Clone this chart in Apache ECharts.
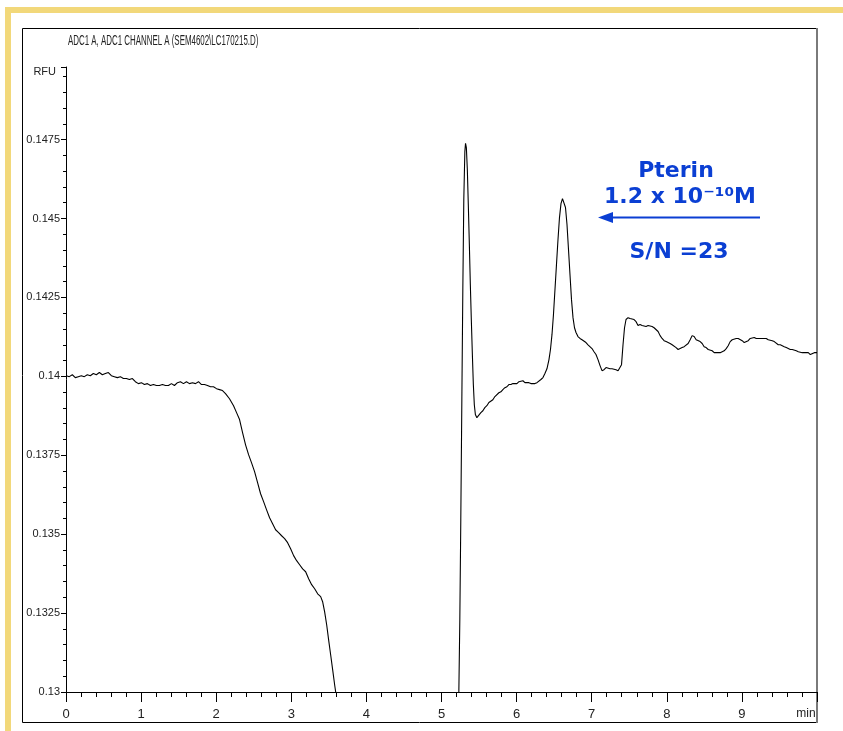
<!DOCTYPE html>
<html>
<head>
<meta charset="utf-8">
<script src="https://cdn.jsdelivr.net/npm/echarts@6/dist/echarts.min.js"></script>
<style>html,body{margin:0;padding:0;background:#fff}#c{width:843px;height:731px}</style>
</head>
<body>
<div id="c"></div>
<script>
// ---- Data (time in min, signal in RFU) ----
const chartTitle = 'ADC1 A, ADC1 CHANNEL A (SEM4602\\LC170215.D)';
const yAxisName = 'RFU';
const xUnitLabel = 'min';
const yTicks = [0.13, 0.1325, 0.135, 0.1375, 0.14, 0.1425, 0.145, 0.1475];
const xTicks = [0, 1, 2, 3, 4, 5, 6, 7, 8, 9, 10];

// segment before the signal leaves the plotted range (drops below 0.13)
const timesA = [0.004,0.044,0.084,0.124,0.164,0.204,0.244,0.284,0.324,0.364,0.404,0.444,0.484,0.524,0.564,0.604,0.644,0.684,0.724,0.764,0.804,0.844,0.884,0.924,0.964,1.004,1.044,1.084,1.124,1.164,1.204,1.244,1.284,1.324,1.364,1.404,1.444,1.484,1.524,1.564,1.604,1.644,1.684,1.724,1.764,1.804,1.844,1.884,1.924,1.964,2.004,2.044,2.084,2.124,2.177,2.231,2.271,2.311,2.351,2.391,2.431,2.471,2.511,2.551,2.591,2.631,2.671,2.711,2.751,2.791,2.831,2.871,2.911,2.951,2.991,3.031,3.071,3.111,3.151,3.191,3.231,3.271,3.311,3.351,3.391,3.417,3.444,3.471,3.497,3.524,3.551,3.577,3.591];
const valuesA = [0.14002,0.13999,0.14005,0.13996,0.13999,0.14002,0.13999,0.14005,0.14002,0.14009,0.14005,0.14012,0.14005,0.14009,0.14012,0.14002,0.13999,0.13996,0.13999,0.13993,0.13993,0.13990,0.13993,0.13983,0.13977,0.13980,0.13974,0.13977,0.13971,0.13974,0.13971,0.13971,0.13974,0.13971,0.13971,0.13977,0.13971,0.13980,0.13983,0.13977,0.13983,0.13977,0.13980,0.13977,0.13983,0.13974,0.13974,0.13971,0.13967,0.13967,0.13961,0.13958,0.13955,0.13945,0.13929,0.13907,0.13885,0.13863,0.13822,0.13783,0.13752,0.13726,0.13698,0.13663,0.13628,0.13603,0.13577,0.13552,0.13533,0.13514,0.13505,0.13495,0.13486,0.13473,0.13454,0.13432,0.13416,0.13403,0.13390,0.13381,0.13359,0.13340,0.13327,0.13311,0.13302,0.13286,0.13254,0.13213,0.13165,0.13118,0.13070,0.13023,0.13000];

// segment after the signal comes back into range
const timesB = [5.231,5.244,5.257,5.271,5.284,5.297,5.311,5.320,5.331,5.344,5.357,5.371,5.384,5.397,5.411,5.424,5.437,5.451,5.471,5.497,5.524,5.551,5.577,5.604,5.631,5.657,5.684,5.711,5.737,5.764,5.791,5.817,5.844,5.871,5.897,5.924,5.951,5.977,6.004,6.031,6.057,6.084,6.111,6.137,6.164,6.191,6.217,6.244,6.271,6.297,6.324,6.351,6.377,6.404,6.431,6.451,6.471,6.491,6.511,6.531,6.551,6.571,6.591,6.611,6.631,6.651,6.671,6.691,6.711,6.731,6.751,6.771,6.791,6.817,6.844,6.871,6.897,6.924,6.951,6.977,7.004,7.031,7.057,7.084,7.111,7.137,7.164,7.191,7.217,7.244,7.271,7.297,7.324,7.351,7.377,7.397,7.417,7.437,7.457,7.484,7.511,7.537,7.564,7.591,7.617,7.644,7.671,7.697,7.724,7.751,7.777,7.804,7.831,7.857,7.884,7.911,7.937,7.964,7.991,8.017,8.044,8.071,8.097,8.124,8.151,8.177,8.204,8.231,8.257,8.284,8.311,8.337,8.364,8.391,8.417,8.444,8.471,8.497,8.524,8.551,8.577,8.604,8.631,8.657,8.684,8.711,8.737,8.764,8.791,8.817,8.844,8.871,8.897,8.924,8.951,8.977,9.004,9.031,9.057,9.084,9.111,9.137,9.164,9.191,9.217,9.244,9.271,9.297,9.324,9.351,9.377,9.404,9.431,9.457,9.484,9.511,9.537,9.564,9.591,9.617,9.644,9.671,9.697,9.724,9.751,9.777,9.804,9.831,9.857,9.884,9.911,9.937,9.964,10.0];
const valuesB = [0.13000,0.13229,0.13546,0.13926,0.14275,0.14560,0.14712,0.14738,0.14725,0.14655,0.14544,0.14417,0.14291,0.14180,0.14069,0.13974,0.13910,0.13879,0.13869,0.13875,0.13885,0.13891,0.13901,0.13907,0.13917,0.13923,0.13926,0.13936,0.13939,0.13948,0.13951,0.13958,0.13964,0.13967,0.13974,0.13974,0.13977,0.13980,0.13977,0.13983,0.13980,0.13986,0.13980,0.13977,0.13980,0.13977,0.13974,0.13977,0.13980,0.13986,0.13990,0.13996,0.14009,0.14024,0.14053,0.14085,0.14132,0.14196,0.14275,0.14354,0.14433,0.14503,0.14547,0.14563,0.14560,0.14535,0.14481,0.14402,0.14322,0.14243,0.14186,0.14154,0.14139,0.14126,0.14120,0.14116,0.14110,0.14107,0.14100,0.14094,0.14088,0.14078,0.14069,0.14053,0.14034,0.14018,0.14021,0.14028,0.14028,0.14024,0.14024,0.14021,0.14021,0.14018,0.14018,0.14037,0.14100,0.14154,0.14180,0.14186,0.14183,0.14189,0.14180,0.14173,0.14161,0.14164,0.14161,0.14161,0.14158,0.14161,0.14161,0.14158,0.14154,0.14151,0.14142,0.14129,0.14120,0.14113,0.14110,0.14107,0.14104,0.14100,0.14094,0.14091,0.14085,0.14091,0.14091,0.14094,0.14094,0.14104,0.14116,0.14129,0.14126,0.14116,0.14116,0.14110,0.14104,0.14094,0.14091,0.14085,0.14081,0.14081,0.14075,0.14078,0.14075,0.14075,0.14075,0.14081,0.14088,0.14097,0.14110,0.14116,0.14120,0.14120,0.14120,0.14116,0.14113,0.14107,0.14110,0.14113,0.14120,0.14120,0.14123,0.14120,0.14123,0.14120,0.14120,0.14120,0.14120,0.14116,0.14116,0.14113,0.14110,0.14104,0.14100,0.14100,0.14094,0.14094,0.14091,0.14088,0.14085,0.14085,0.14085,0.14081,0.14078,0.14078,0.14075,0.14075,0.14072,0.14075,0.14069,0.14072,0.14075,0.14075];

const annoName = 'Pterin';
const annoConc = '1.2 x 10\u207B\u00B9\u2070M';
const annoSN = 'S/N =23';

// ---- Chart ----
const zip = (t, v) => t.map((x, i) => [x, v[i]]);
const narrow = '"Liberation Sans Narrow", "Liberation Sans", Arial, sans-serif';
const blue = '#0b3fd3';
const annoFont = 'bold 22px "DejaVu Sans", Verdana, sans-serif';
const chart = echarts.init(document.getElementById('c'), null, {renderer: 'canvas'});
const yMin = yTicks[0], yStep = yTicks[1] - yTicks[0];

chart.setOption({
  animation: false,
  backgroundColor: '#ffffff',
  grid: {left: 66, right: 26, top: 67, bottom: 39, containLabel: false},
  xAxis: {
    type: 'value', min: xTicks[0], max: xTicks[xTicks.length - 1], interval: 1,
    axisLine: {show: true, onZero: false, lineStyle: {color: '#000', width: 1}},
    axisTick: {show: true, length: 10, lineStyle: {color: '#000', width: 1}},
    minorTick: {show: true, splitNumber: 5, length: 5, lineStyle: {color: '#000', width: 1}},
    splitLine: {show: false}, minorSplitLine: {show: false},
    axisLabel: {
      color: '#222', fontFamily: narrow, fontSize: 13, margin: 16,
      formatter: v => (v === xTicks[xTicks.length - 1] ? '{u|' + xUnitLabel + '}' : String(v)),
      rich: {u: {fontFamily: narrow, fontSize: 12, color: '#222', padding: [0, 22, 0, 0]}}
    }
  },
  yAxis: {
    type: 'value', min: yMin, max: 0.1498, interval: yStep,
    name: yAxisName, nameLocation: 'end', nameGap: -5,
    nameTextStyle: {color: '#222', fontFamily: narrow, fontSize: 11, align: 'right', verticalAlign: 'middle', padding: [0, 10, 0, 0]},
    axisLine: {show: true, onZero: false, lineStyle: {color: '#000', width: 1}},
    axisTick: {show: true, length: 5, lineStyle: {color: '#000', width: 1}},
    minorTick: {show: true, splitNumber: 5, length: 3, lineStyle: {color: '#000', width: 1}},
    splitLine: {show: false}, minorSplitLine: {show: false},
    axisLabel: {
      color: '#222', fontFamily: narrow, fontSize: 11, margin: 6, showMaxLabel: false,
      formatter: v => String(+v.toFixed(4))
    }
  },
  series: [
    {type: 'line', data: zip(timesA, valuesA), showSymbol: false, symbol: 'none', clip: true,
     lineStyle: {color: '#000', width: 1.1}, silent: true},
    {type: 'line', data: zip(timesB, valuesB), showSymbol: false, symbol: 'none', clip: true,
     lineStyle: {color: '#000', width: 1.1}, silent: true}
  ],
  graphic: [
    {type: 'rect', shape: {x: 5, y: 7, width: 838, height: 6}, style: {fill: '#f2d87a'}, silent: true},
    {type: 'rect', shape: {x: 5, y: 7, width: 6, height: 724}, style: {fill: '#f2d87a'}, silent: true},
    {type: 'rect', shape: {x: 22.5, y: 28.5, width: 794, height: 694}, style: {fill: null, stroke: '#000', lineWidth: 1}, silent: true},
    {type: 'line', shape: {x1: 817, y1: 28, x2: 817, y2: 723}, style: {stroke: '#7a7a7a', lineWidth: 2}, silent: true},
    {type: 'text', x: 68, y: 41, scaleX: 0.565, style: {text: chartTitle, font: '14px ' + narrow, fill: '#222', align: 'left', verticalAlign: 'middle'}, silent: true},
    {type: 'text', x: 676, y: 171, style: {text: annoName, font: annoFont, fill: blue, align: 'center', verticalAlign: 'middle'}, silent: true},
    {type: 'text', x: 680, y: 197, style: {text: annoConc, font: annoFont, fill: blue, align: 'center', verticalAlign: 'middle'}, silent: true},
    {type: 'text', x: 679, y: 252, style: {text: annoSN, font: annoFont, fill: blue, align: 'center', verticalAlign: 'middle'}, silent: true},
    {type: 'line', shape: {x1: 608, y1: 217.5, x2: 760, y2: 217.5}, style: {stroke: blue, lineWidth: 2}, silent: true},
    {type: 'polygon', shape: {points: [[598, 217.5], [613, 212], [613, 223]]}, style: {fill: blue}, silent: true}
  ]
});
</script>
</body>
</html>
